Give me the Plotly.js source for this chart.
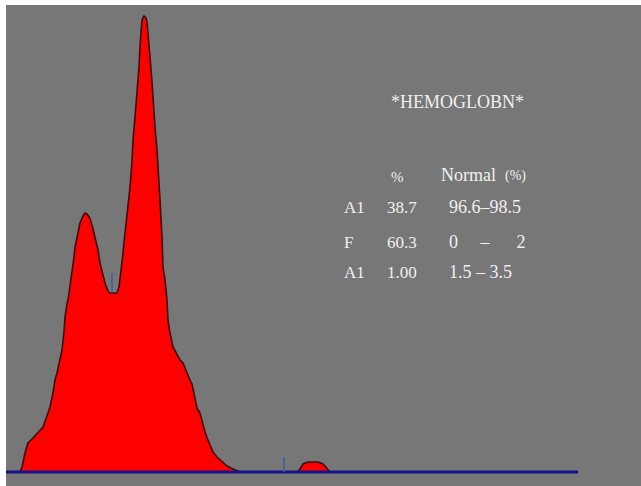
<!DOCTYPE html>
<html>
<head>
<meta charset="utf-8">
<script src="https://cdn.plot.ly/plotly-3.0.1.min.js"></script>
<style>
  html, body { margin: 0; padding: 0; background: #ffffff; }
  #chart { width: 641px; height: 486px; }
</style>
</head>
<body>
<div id="chart"></div>
<script>
// Chromatogram trace (time index, detector signal)
var time = [20,22,25,28,33,38,43,48,50,53,55,57,60,62,64,65,67,68,70,72,74,75,78,80,83,85,87,90,93,95,98,100,103,105,108,110,114,117,119,120,122,125,128,130,132,133,135,137,139,140,142,144,146,147,149,150,152,153,155,157,159,160,162,163,165,167,168,170,173,177,180,183,186,190,192,197,200,205,208,213,217,222,227,233,237,240,297,300,303,308,313,318,323,327,330];
var signal = [0,5,19,29,34,39,45,59,65,79,92,99,112,122,140,155,168,172,186,199,215,225,240,249,256,259,258,254,243,235,222,209,197,189,181,179,179,179,185,192,210,239,265,285,310,332,355,379,405,425,452,456,454,450,430,415,390,372,345,322,293,272,235,205,192,172,152,139,125,117,112,109,101,92,88,64,59,40,32,20,15,10,6,3,1,0,0,3,8,10,10,10,8,4,0];

// Baseline span and peak markers
var baselineX = [6, 578];
var baselineY = [0, 0];
var marker1X = [112, 112];
var marker1Y = [179, 199];
var marker2X = [284, 284];
var marker2Y = [0, 15];

// Report text
var reportTitle = "*HEMOGLOBN*";
var colHeaders = ["%", "Normal", "(%)"];
var rowNames = ["A1", "F", "A1"];
var rowPercents = ["38.7", "60.3", "1.00"];
var rowNormals = ["96.6\u201398.5", "0\u00a0\u00a0\u00a0\u00a0\u00a0\u2013\u00a0\u00a0\u00a0\u00a0\u00a0\u00a02", "1.5\u00a0\u2013\u00a03.5"];

var traces = [
  {
    x: time, y: signal, type: 'scatter', mode: 'lines',
    fill: 'tozeroy', fillcolor: '#ff0000',
    line: {color: '#3c0c0c', width: 1.6},
    hoverinfo: 'skip'
  },
  {
    x: baselineX, y: baselineY, type: 'scatter', mode: 'lines',
    line: {color: '#14148c', width: 3}, hoverinfo: 'skip'
  },
  {
    x: marker1X, y: marker1Y, type: 'scatter', mode: 'lines',
    line: {color: '#3c5ca0', width: 1.5}, hoverinfo: 'skip'
  },
  {
    x: marker2X, y: marker2Y, type: 'scatter', mode: 'lines',
    line: {color: '#3c5ca0', width: 1.5}, hoverinfo: 'skip'
  }
];

var font = 'Liberation Serif, Times New Roman, serif';
var txtColor = '#f0f0f0';
function ann(x, y, text, size, anchor) {
  return {x: x, y: y, xref: 'x', yref: 'y', text: text, showarrow: false,
          xanchor: anchor || 'left', yanchor: 'middle',
          font: {family: font, size: size, color: txtColor}};
}
var annotations = [];
annotations.push(ann(457, 472 - 102, reportTitle, 18, 'center'));
annotations.push(ann(389, 472 - 177, colHeaders[0], 15));
annotations.push(ann(439, 472 - 175, colHeaders[1], 18));
annotations.push(ann(503, 472 - 176, colHeaders[2], 14));
var rowY = [207, 242, 272];
for (var i = 0; i < rowNames.length; i++) {
  annotations.push(ann(342, 472 - rowY[i], rowNames[i], 17));
  annotations.push(ann(385, 472 - rowY[i], rowPercents[i], 17));
  annotations.push(ann(447, 472 - rowY[i], rowNormals[i], 18));
}

var layout = {
  width: 641, height: 486,
  margin: {l: 6, r: 0, t: 5, b: 0, pad: 0},
  paper_bgcolor: '#ffffff',
  plot_bgcolor: '#777777',
  showlegend: false,
  xaxis: {range: [6, 641], visible: false, fixedrange: true},
  yaxis: {range: [-14, 467], visible: false, fixedrange: true},
  annotations: annotations
};

Plotly.newPlot('chart', traces, layout, {staticPlot: true, displayModeBar: false});
</script>
</body>
</html>
